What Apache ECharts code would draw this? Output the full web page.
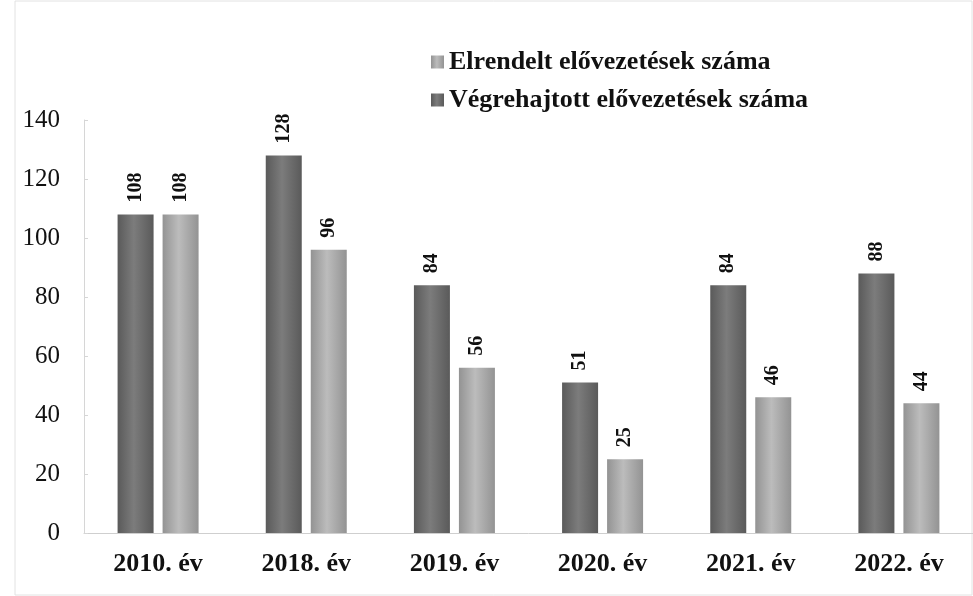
<!DOCTYPE html>
<html>
<head>
<meta charset="utf-8">
<script src="https://cdn.jsdelivr.net/npm/echarts@6/dist/echarts.min.js"></script>
<style>
  html, body { margin: 0; padding: 0; background: #fff; }
  #chart { width: 973px; height: 596px; }
</style>
</head>
<body>
<div id="chart"></div>
<script>
// categories and values
const years = ['2010. év', '2018. év', '2019. év', '2020. év', '2021. év', '2022. év']
const vegrehajtott = [108, 128, 84, 51, 84, 88]
const elrendelt = [108, 96, 56, 25, 46, 44]

const nameElrendelt = 'Elrendelt elővezetések száma'
const nameVegrehajtott = 'Végrehajtott elővezetések száma'

const serif = '"Liberation Serif", "DejaVu Serif", serif'

function cylinder(edge, mid) {
  return new echarts.graphic.LinearGradient(0, 0, 1, 0, [
    { offset: 0, color: edge },
    { offset: 0.45, color: mid },
    { offset: 1, color: edge }
  ])
}

const valueLabel = {
  show: true,
  position: 'top',
  rotate: 90,
  align: 'left',
  verticalAlign: 'middle',
  distance: 12,
  fontFamily: serif,
  fontWeight: 'bold',
  fontSize: 20,
  color: '#111'
}

const chart = echarts.init(document.getElementById('chart'))

chart.setOption({
  animation: false,
  textStyle: { fontFamily: serif },
  graphic: [
    {
      type: 'rect',
      shape: { x: 15, y: 1, width: 957, height: 594 },
      style: { fill: 'none', stroke: '#e2e2e2', lineWidth: 1 },
      silent: true
    }
  ],
  legend: {
    orient: 'vertical',
    left: 426,
    top: 44,
    itemWidth: 13,
    itemHeight: 13,
    itemGap: 12,
    icon: 'rect',
    data: [nameElrendelt, nameVegrehajtott],
    textStyle: {
      fontFamily: serif,
      fontWeight: 'bold',
      fontSize: 26,
      color: '#111'
    }
  },
  grid: {
    left: 84,
    right: 0,
    top: 120,
    bottom: 63
  },
  xAxis: {
    type: 'category',
    data: years,
    axisLine: { lineStyle: { color: '#cfcfcf' } },
    axisTick: { show: false },
    axisLabel: {
      margin: 18,
      fontFamily: serif,
      fontWeight: 'bold',
      fontSize: 26,
      color: '#111'
    }
  },
  yAxis: {
    type: 'value',
    min: 0,
    max: 140,
    interval: 20,
    splitLine: { show: false },
    axisLine: { show: true, lineStyle: { color: '#d6d6d6' } },
    axisTick: { show: true, inside: true, length: 4, lineStyle: { color: '#d6d6d6' } },
    axisLabel: {
      margin: 24,
      fontFamily: serif,
      fontSize: 25,
      color: '#111'
    }
  },
  series: [
    {
      name: nameVegrehajtott,
      type: 'bar',
      data: vegrehajtott,
      barWidth: 36,
      barGap: '25%',
      itemStyle: { color: cylinder('#5a5a5a', '#7c7c7c') },
      label: valueLabel
    },
    {
      name: nameElrendelt,
      type: 'bar',
      data: elrendelt,
      barWidth: 36,
      itemStyle: { color: cylinder('#939393', '#bcbcbc') },
      label: valueLabel
    }
  ]
})
</script>
</body>
</html>
